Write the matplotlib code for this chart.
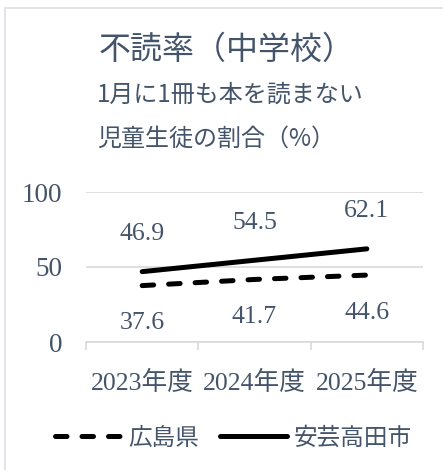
import matplotlib.pyplot as plt
from matplotlib.patches import Rectangle
from matplotlib.lines import Line2D

years = ['2023年度', '2024年度', '2025年度']
hiroshima = [37.6, 41.7, 44.6]
akitakata = [46.9, 54.5, 62.1]
series_names = ['広島県', '安芸高田市']
y_ticks = [0, 50, 100]

title = '不読率（中学校）'
sub1 = '1月に1冊も本を読まない'
sub2 = '児童生徒の割合（%）'

txt_c = '#44546A'
grid_c = '#D9D9D9'
fam_num = ['Liberation Serif', 'Noto Sans CJK JP']
fam_jp = ['Noto Sans CJK JP', 'DejaVu Sans']

plt.rcParams['font.family'] = fam_jp
W, H = 443, 470
fig = plt.figure(figsize=(W / 100, H / 100), dpi=100)

# chart border (only top/left visible in frame)
fig.patches.append(Rectangle((5 / W, -0.1), 1.2, 1 - 8 / H + 0.1, transform=fig.transFigure,
                             fill=False, edgecolor='#DEE2E6', linewidth=1.3))

ax = fig.add_axes([86 / W, 1 - 342 / H, (423 - 86) / W, 150 / H])
x = list(range(len(years)))
lw = 3.6
dash = (0, (2.3, 3.0))
ax.plot(x, hiroshima, color='black', linewidth=lw, linestyle=dash,
        dash_capstyle='round', zorder=3)
ax.plot(x, akitakata, color='black', linewidth=lw, solid_capstyle='round', zorder=3)

for xi, v in zip(x, akitakata):
    ax.annotate(f'{v}', (xi, v), xytext=(0, 27), textcoords='offset points',
                ha='center', va='center', fontsize=18.5, color=txt_c, family=fam_num)
for xi, v in zip(x, hiroshima):
    ax.annotate(f'{v}', (xi, v), xytext=(0, -27), textcoords='offset points',
                ha='center', va='center', fontsize=18.5, color=txt_c, family=fam_num)

ax.set_xlim(-0.5, 2.5)
ax.set_ylim(0, 100)
ax.set_yticks(y_ticks)
ax.set_yticklabels([str(t) for t in y_ticks], fontsize=19.5, color=txt_c, family=fam_num)
ax.tick_params(axis='y', length=0, pad=17)
ax.set_xticks(x)
ax.set_xticklabels(years, fontsize=18.5, color=txt_c, family=fam_num)
ax.set_xticks([-0.5, 0.5, 1.5, 2.5], minor=True)
ax.tick_params(axis='x', which='major', length=0, pad=21)
ax.tick_params(axis='x', which='minor', length=6, color=grid_c, width=1.2)
for s in ['top', 'right', 'left']:
    ax.spines[s].set_visible(False)
ax.spines['bottom'].set_color(grid_c)
ax.spines['bottom'].set_linewidth(1.2)
ax.grid(axis='y', color=grid_c, linewidth=1.2)
ax.set_axisbelow(True)

fig.text(99 / W, 1 - 50 / H, title, fontsize=23, color=txt_c, va='center', ha='left')
fig.text(97 / W, 1 - 95 / H, sub1, fontsize=17.3, color=txt_c, va='center', ha='left')
fig.text(97 / W, 1 - 139 / H, sub2, fontsize=17.3, color=txt_c, va='center', ha='left')

handles = [Line2D([], [], color='black', linewidth=lw, linestyle=dash, dash_capstyle='round'),
           Line2D([], [], color='black', linewidth=lw, solid_capstyle='round')]
leg = fig.legend(handles, series_names, loc='center', bbox_to_anchor=(233 / W, 1 - 438 / H),
                 ncol=2, frameon=False, fontsize=17, handlelength=2.85, handletextpad=0.25,
                 columnspacing=0.9)
for t in leg.get_texts():
    t.set_color(txt_c)

fig.savefig('out.png', dpi=100)
